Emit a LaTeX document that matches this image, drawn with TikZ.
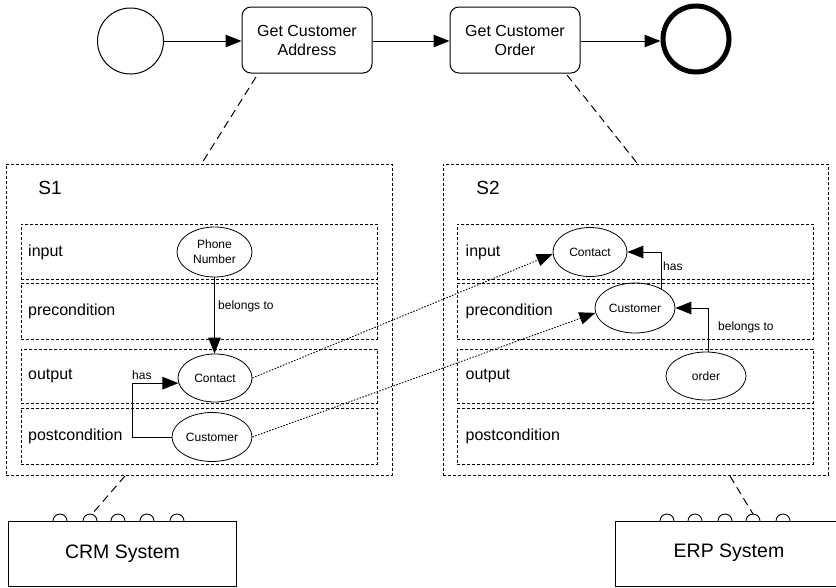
\documentclass[tikz,border=0pt]{standalone}
\usepackage{fontspec}
\setmainfont{Liberation Sans}
\usetikzlibrary{arrows.meta,shapes.geometric,calc}

\begin{document}
\begin{tikzpicture}[x=1pt,y=-1pt,
  task/.style={draw, line width=1pt, rounded corners=9pt, minimum width=130pt, minimum height=66pt, align=center, inner sep=0pt, font=\fontsize{16}{19}\selectfont},
  evstart/.style={draw, circle, line width=1pt, minimum size=66pt, inner sep=0pt},
  evend/.style={draw, circle, line width=5pt, minimum size=66pt, inner sep=0pt},
  outerbox/.style={draw, dash pattern=on 3pt off 2pt, line width=0.8pt, anchor=north west, inner sep=0pt},
  rowbox/.style={draw, dash pattern=on 3pt off 2pt, line width=0.8pt, anchor=north west, minimum width=356pt, inner sep=0pt},
  rowlabel/.style={anchor=west, inner sep=0pt, font=\fontsize{16}{19}\selectfont},
  slabel/.style={inner sep=0pt, font=\fontsize{19}{22}\selectfont},
  obj/.style={draw, ellipse, line width=0.8pt, inner sep=0pt, align=center, font=\fontsize{12}{15}\selectfont},
  small/.style={inner sep=0pt, font=\fontsize{12}{15}\selectfont},
  sysbox/.style={draw, line width=1pt, anchor=north west, inner sep=0pt, font=\fontsize{19.5}{23}\selectfont},
  arr/.style={line width=1pt, -{Triangle[length=16pt,width=12.5pt]}},
  dotarr/.style={line width=0.9pt, dash pattern=on 1.5pt off 1.5pt, -{Triangle[length=16pt,width=12.5pt]}},
  linkdash/.style={line width=1pt, dash pattern=on 8pt off 5pt},
  port/.style={line width=0.9pt}
]
\useasboundingbox (0,0) rectangle (836,587);

% process
\node[evstart] (start) at (130.5,41) {};
\node[task] (t1) at (307,40) {Get Customer\\Address};
\node[task] (t2) at (515,40) {Get Customer\\Order};
\node[evend] (end) at (696,39) {};
\draw[arr] (start) -- (t1.west |- start);
\draw[arr] (t1.east |- start) -- (t2.west |- start);
\draw[arr] (t2.east |- start) -- (end.west |- start);

% S1
\node[outerbox, minimum width=386pt, minimum height=311pt] (S1) at (6,164) {};
\node[slabel] (s1lab) at (50,188) {S1};
\node[rowbox, minimum height=55pt] (s1r1) at (21,224) {};
\node[rowbox, minimum height=56pt] (s1r2) at (21,283) {};
\node[rowbox, minimum height=54pt] (s1r3) at (21,349) {};
\node[rowbox, minimum height=56pt] (s1r4) at (21,408) {};
\node[rowlabel] (s1l1) at ([xshift=7pt]s1r1.west) {input};
\node[rowlabel] (s1l2) at ([xshift=7pt]s1r2.west) {precondition};
\node[rowlabel] (s1l3) at ([xshift=7pt]s1r3.west) {output};
\node[rowlabel] (s1l4) at ([xshift=7pt]s1r4.west) {postcondition};

\node[obj, minimum width=75pt, minimum height=50pt] (pn) at (214.5,252) {Phone\\Number};
\node[obj, minimum width=74pt, minimum height=48pt] (c1) at (215,378) {Contact};
\node[obj, minimum width=80pt, minimum height=49pt] (cu1) at (212,437) {Customer};

\draw[arr] (pn.south) -- (pn.south |- c1.north);
\node[small, anchor=west] (bt1) at (218,306) {belongs to};
\draw[arr] (cu1.west) -- ([xshift=-39pt]cu1.west) |- (c1.188);
\node[small, anchor=west] (has1) at (132,375) {has};

% S2
\node[outerbox, minimum width=385pt, minimum height=311pt] (S2) at (443,164) {};
\node[slabel] (s2lab) at (488,188) {S2};
\node[rowbox, minimum height=55pt] (s2r1) at (457,224) {};
\node[rowbox, minimum height=56pt] (s2r2) at (457,283) {};
\node[rowbox, minimum height=54pt] (s2r3) at (457,349) {};
\node[rowbox, minimum height=56pt] (s2r4) at (457,408) {};
\node[rowlabel] (s2l1) at ([xshift=8.5pt]s2r1.west) {input};
\node[rowlabel] (s2l2) at ([xshift=8.5pt]s2r2.west) {precondition};
\node[rowlabel] (s2l3) at ([xshift=8.5pt]s2r3.west) {output};
\node[rowlabel] (s2l4) at ([xshift=8.5pt]s2r4.west) {postcondition};

\node[obj, minimum width=74pt, minimum height=49pt] (c2) at (590,252) {Contact};
\node[obj, minimum width=80pt, minimum height=50pt] (cu2) at (635,308) {Customer};
\node[obj, minimum width=80pt, minimum height=48pt] (ord) at (706,376) {order};

\draw[arr] (cu2.36) |- (c2.east);
\node[small, anchor=west] (has2) at (663,266) {has};
\draw[arr] (ord.85) |- (cu2.east);
\node[small, anchor=west] (bt2) at (718,327) {belongs to};

% mappings
\draw[dotarr] (c1.east) -- (c2.183);
\draw[dotarr] (cu1.east) -- (cu2.187);

% links process -> services
\coordinate (l1a) at (256,77);
\coordinate (l1b) at (202,163);
\coordinate (l2a) at (567,75);
\coordinate (l2b) at (637,163);
\draw[linkdash] (l1a) -- (l1b);
\draw[linkdash] (l2a) -- (l2b);

% systems
\node[sysbox, minimum width=228pt, minimum height=65pt] (crm) at (8,521) {CRM System};
\foreach \px in {60,90,118,147,177}
  \draw[port] (\px-7,521) arc[start angle=180, end angle=0, radius=7pt];
\coordinate (l3a) at (125,476);
\coordinate (l3b) at (92,514);
\draw[linkdash] (l3a) -- (l3b);

\coordinate (erpa) at (836,521);
\coordinate (erpb) at (615,521);
\coordinate (erpc) at (615,586);
\coordinate (erpd) at (836,586);
\draw[line width=1pt] (erpa) -- (erpb) -- (erpc) -- (erpd);
\node[inner sep=0pt, font=\fontsize{19.5}{23}\selectfont] (erp) at (729,553) {ERP System};
\foreach \px in {667,695,725,753,783}
  \draw[port] (\px-7,521) arc[start angle=180, end angle=0, radius=7pt];
\coordinate (l4a) at (730,476);
\coordinate (l4b) at (753,514);
\draw[linkdash] (l4a) -- (l4b);
\end{tikzpicture}
\end{document}
